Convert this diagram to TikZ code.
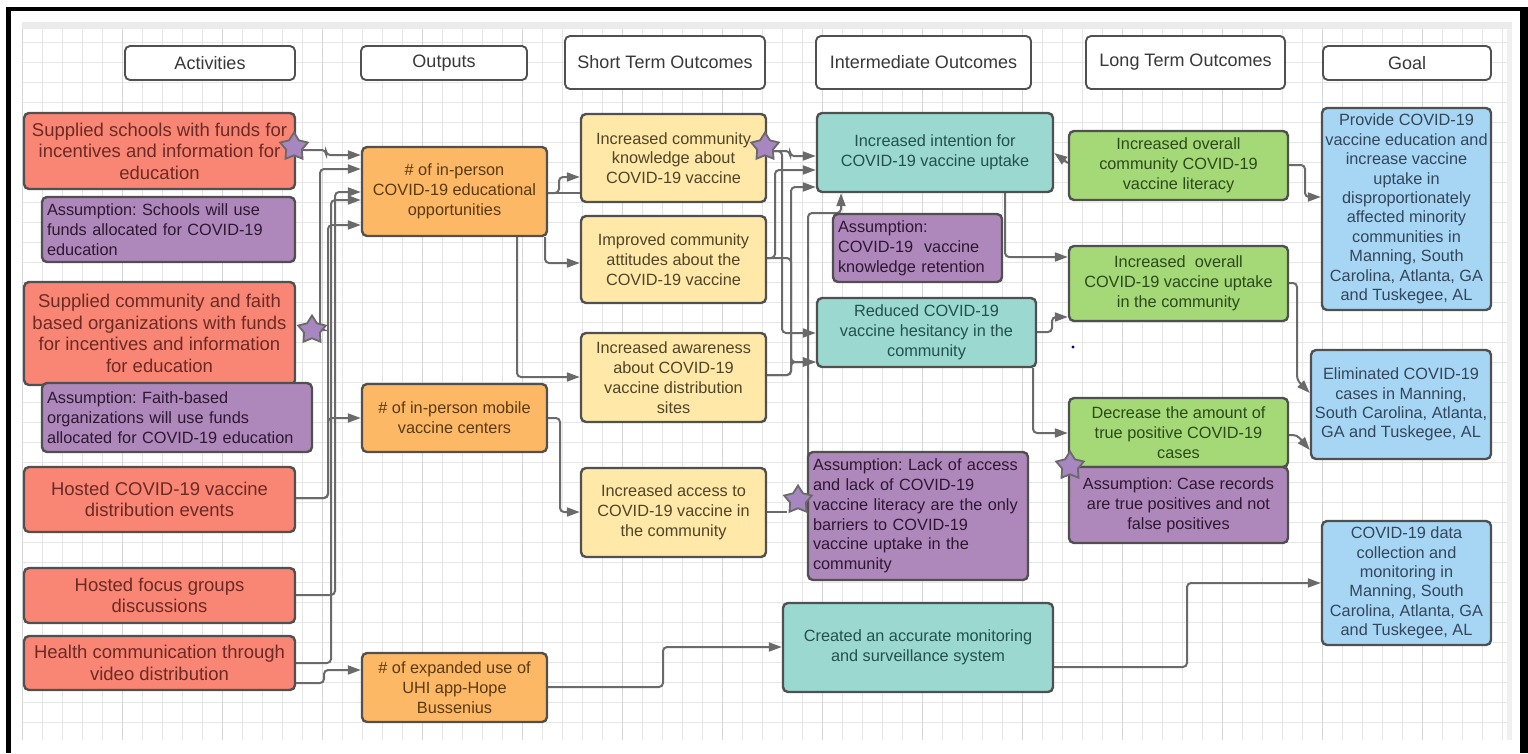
\documentclass[tikz,border=0pt]{standalone}
\usepackage{fontspec}
\setmainfont{Liberation Sans}
\usetikzlibrary{arrows.meta,shapes.geometric}
\pgfdeclarelayer{bg}
\pgfsetlayers{bg,main}
\definecolor{bordc}{HTML}{505050}
\definecolor{connc}{HTML}{6A6A6A}
\definecolor{redc}{HTML}{F98574}
\definecolor{redt}{HTML}{6B2B24}
\definecolor{orc}{HTML}{FDB866}
\definecolor{ort}{HTML}{5A3A12}
\definecolor{yelc}{HTML}{FFE8A8}
\definecolor{yelt}{HTML}{4F4527}
\definecolor{tealc}{HTML}{9AD8D0}
\definecolor{tealt}{HTML}{24504D}
\definecolor{grnc}{HTML}{A5D877}
\definecolor{grnt}{HTML}{2C4A1A}
\definecolor{purc}{HTML}{AE88BA}
\definecolor{purt}{HTML}{2E1733}
\definecolor{bluc}{HTML}{A7D6F5}
\definecolor{blut}{HTML}{33465A}
\definecolor{starc}{HTML}{A886C0}
\definecolor{gridminor}{HTML}{E6E6E6}
\definecolor{gridmajor}{HTML}{D6D6D6}
\newcommand{\fA}{\fontsize{18.5}{21.6}\selectfont}
\newcommand{\fB}{\fontsize{16.3}{19.8}\selectfont}
\newcommand{\fG}{\fontsize{16.3}{19.4}\selectfont}
\newcommand{\fH}{\fontsize{18}{21}\selectfont}
\frenchspacing
\begin{document}
\frenchspacing
\begin{tikzpicture}[x=1pt,y=-1pt,
  box/.style={draw=bordc,line width=2.4pt,rounded corners=5pt,inner sep=2pt,align=center},
  hdr/.style={box,fill=white,line width=1.9pt,text=black!78,font=\fH},
  act/.style={box,fill=redc,text=redt,font=\fA,minimum width=271pt},
  outp/.style={box,fill=orc,text=ort,font=\fB,minimum width=185pt},
  shrt/.style={box,fill=yelc,text=yelt,font=\fB,minimum width=185pt},
  inter/.style={box,fill=tealc,text=tealt,font=\fB},
  lng/.style={box,fill=grnc,text=grnt,font=\fB,minimum width=219pt},
  goal/.style={box,fill=bluc,text=blut,font=\fG},
  asm/.style={box,fill=purc,text=purt,font=\fB,align=left,inner sep=5pt},
  asmc/.style={box,fill=purc,text=purt,font=\fB},
  conn/.style={draw=connc,line width=2pt,rounded corners=4pt,-{Triangle[length=13pt,width=9pt]}},
  wire/.style={draw=connc,line width=2pt,rounded corners=4pt},
  mystar/.style={star,star points=5,star point ratio=1.75,minimum size=29pt,inner sep=0pt,fill=starc,draw=bordc!85,line width=1.8pt}
]
\useasboundingbox (0,0) rectangle (1528,753);

% headers
\node[hdr,minimum width=170pt,minimum height=34pt] (hA) at (210,63) {Activities};
\node[hdr,minimum width=166pt,minimum height=34pt] (hO) at (444,63) {Outputs};
\node[hdr,minimum width=200pt,minimum height=53pt] (hS) at (665,62.5) {Short Term Outcomes};
\node[hdr,minimum width=215pt,minimum height=53pt] (hI) at (923.5,62.5) {Intermediate Outcomes};
\node[hdr,minimum width=199pt,minimum height=53pt] (hL) at (1185.5,62.5) {Long Term Outcomes};
\node[hdr,minimum width=168pt,minimum height=34pt] (hG) at (1407,63) {Goal};

% activities
\node[act,minimum height=76pt] (A1) at (159.5,151) {Supplied schools with funds for\\incentives and information for\\education};
\node[asm,text width=243pt,minimum height=65pt] (As1) at (168.5,229.5) {Assumption: Schools will use\\funds allocated for COVID-19\\education};
\node[act,minimum height=103pt] (A2) at (159.5,333.5) {Supplied community and faith\\based organizations with funds\\for incentives and information\\for education};
\node[asm,text width=260pt,minimum height=69pt] (As2) at (177,417.5) {Assumption: Faith-based\\organizations will use funds\\allocated for COVID-19 education};
\node[act,minimum height=65pt] (A3) at (159.5,499.5) {Hosted COVID-19 vaccine\\distribution events};
\node[act,minimum height=55pt] (A4) at (159.5,595.5) {Hosted focus groups\\discussions};
\node[act,minimum height=54pt] (A5) at (159.5,663) {Health communication through\\video distribution};

% outputs
\node[outp,minimum height=89pt] (O1) at (454.5,191.5) {\# of in-person\\COVID-19 educational\\opportunities};
\node[outp,minimum height=68pt] (O2) at (454.5,418) {\# of in-person mobile\\vaccine centers};
\node[outp,minimum height=69pt] (O3) at (454.5,687.5) {\# of expanded use of\\UHI app-Hope\\Bussenius};

% short term
\node[shrt,minimum height=88pt] (S1) at (673.5,158) {Increased community\\knowledge about\\COVID-19 vaccine};
\node[shrt,minimum height=87pt] (S2) at (673.5,259.5) {Improved community\\attitudes about the\\COVID-19 vaccine};
\node[shrt,minimum height=89pt] (S3) at (673.5,377.5) {Increased awareness\\about COVID-19\\vaccine distribution\\sites};
\node[shrt,minimum height=89pt] (S4) at (673.5,512.5) {Increased access to\\COVID-19 vaccine in\\the community};

% intermediate
\node[inter,minimum width=236pt,minimum height=79pt] (I1) at (935,152.5) {Increased intention for\\COVID-19 vaccine uptake};
\node[asm,text width=159pt,minimum height=68pt] (IA1) at (917.5,248) {Assumption:\\COVID-19~ vaccine\\knowledge retention};
\node[inter,minimum width=219pt,minimum height=69pt] (I2) at (926.5,332.5) {Reduced COVID-19\\vaccine hesitancy in the\\community};
\node[asm,text width=210pt,minimum height=128pt] (IA2) at (918,516) {Assumption: Lack of access\\and lack of COVID-19\\vaccine literacy are the only\\barriers to COVID-19\\vaccine uptake in the\\community};
\node[inter,minimum width=270pt,minimum height=89pt] (I3) at (918,647.5) {Created an accurate monitoring\\and surveillance system};

% long term
\node[lng,minimum height=69pt] (L1) at (1178.5,165.5) {Increased overall\\community COVID-19\\vaccine literacy};
\node[lng,minimum height=75pt] (L2) at (1178.5,283.5) {Increased~ overall\\COVID-19 vaccine uptake\\in the community};
\node[lng,minimum height=69pt] (L3) at (1178.5,432.5) {Decrease the amount of\\true positive COVID-19\\cases};
\node[asmc,minimum width=219pt,minimum height=76pt] (LA) at (1178.5,505) {Assumption: Case records\\are true positives and not\\false positives};

% goals
\node[goal,minimum width=169pt,minimum height=202pt] (G1) at (1406.5,209) {Provide COVID-19\\vaccine education and\\increase vaccine\\uptake in\\disproportionately\\affected minority\\communities in\\Manning, South\\Carolina, Atlanta, GA\\and Tuskegee, AL};
\node[goal,minimum width=180pt,minimum height=109pt] (G2) at (1401,404.5) {Eliminated COVID-19\\cases in Manning,\\South Carolina, Atlanta,\\GA and Tuskegee, AL};
\node[goal,minimum width=169pt,minimum height=124pt] (G3) at (1406.5,583) {COVID-19 data\\collection and\\monitoring in\\Manning, South\\Carolina, Atlanta, GA\\and Tuskegee, AL};

% stars
\node[mystar] (st1) at (294,147) {};
\node[mystar] (st2) at (312,330) {};
\node[mystar] (st3) at (765,147) {};
\node[mystar] (st4) at (798,500) {};
\node[mystar] (st5) at (1070,466) {};

\begin{pgfonlayer}{bg}
  % frame and canvas
  \fill[white] (0,0) rectangle (1528,753);
  \fill[gray!16] (22,22) rectangle (1512,29);
  \foreach \i in {0,...,74} {
    \draw[gridminor,line width=0.8pt] ({22+20*\i},29) -- ({22+20*\i},740);
  }
  \foreach \j in {1,...,35} {
    \draw[gridminor,line width=0.8pt] (22,{22+20*\j}) -- (1512,{22+20*\j});
  }
  \foreach \i in {0,5,...,70} {
    \draw[gridmajor,line width=0.9pt] ({22+20*\i},29) -- ({22+20*\i},740);
  }
  \fill[gray!12] (1507,29) rectangle (1512,740);
  \fill[black] (6,7) rectangle (11,753);
  \fill[black] (6,7) rectangle (1528,11);
  \fill[black] (1520,7) rectangle (1528,753);

  % activities -> outputs
  \draw[conn] (st1 |- 0,150) -- (326,150) |- (O1.west |- 0,155);
  \draw[conn] (st2) -| (320,169) -- (O1.west |- 0,169);
  \draw[conn] (A3.east |- 0,498) -| (328,225) -- (O1.west |- 0,225);
  \draw[conn] (A3.east |- 0,498) -| (328,418) -- (O2.west |- 0,418);
  \draw[conn] (A4.east |- 0,595) -| (335,192) -- (O1.west |- 0,192);
  \draw[conn] (A5.east |- 0,663) -| (331,200) -- (O1.west |- 0,200);
  \draw[conn] (A5.east |- 0,683) -| (324,670) -- (O3.west |- 0,670);

  % outputs -> short term
  \draw[conn] (O1.east |- 0,193) -| (559,177) -- (S1.west |- 0,177);
  \draw[wire] (O1.east |- 0,193) -- (S1.west |- 0,193);
  \draw[conn] (O1.south -| 545,0) |- (S2.west |- 0,263);
  \draw[conn] (O1.south -| 517,0) |- (S3.west |- 0,377);
  \draw[conn] (O2.east) -| (560,512) -- (S4.west |- 0,512);
  \draw[conn] (O3.east |- 0,687) -| (663,647) -- (I3.west |- 0,647);

  % short term -> intermediate
  \draw[conn] (st3 |- 0,151) -- (790,151) |- (I1.west |- 0,156);
  \draw[conn] (st3 |- 0,151) -| (782,333) -- (I2.west |- 0,333);
  \draw[conn] (S2.east |- 0,258) -| (775,170) -- (I1.west |- 0,170);
  \draw[conn] (S2.east |- 0,258) -| (791,362) -- (I2.west |- 0,362);
  \draw[conn] (S3.east |- 0,375) -| (791,187) -- (I1.west |- 0,187);
  \draw[conn] (S3.east |- 0,375) -| (791,362) -- (I2.west |- 0,362);
  \draw[wire] (S4.east |- 0,512) -- (st4.west |- 0,512);
  \draw[conn] (st4 -| 808,0) |- (841,213) -- (I1.south -| 841,0);

  % intermediate -> long term
  \draw[conn] (L1.west |- 0,163) -- (I1.east |- 0,153);
  \draw[conn] (I1.south -| 1005,0) |- (L2.west |- 0,257);
  \draw[conn] (I2.east |- 0,332) -| (1052,317) -- (L2.west |- 0,317);
  \draw[conn] (I2.south -| 1033,0) |- (L3.west |- 0,433);

  % long term -> goal
  \draw[conn] (L1.east |- 0,165) -| (1305,197) -- (G1.west |- 0,197);
  \draw[conn] (L2.east |- 0,283) -| (1297,380) -- (G2.west |- 0,393);
  \draw[conn] (L3.east |- 0,435) -- (1297,435) -- (G2.west |- 0,450);
  \draw[conn] (I3.east |- 0,667) -| (1187,583) -- (G3.west |- 0,583);

  \fill[blue!55!black] (1073,347) circle (1.6pt);
\end{pgfonlayer}
\end{tikzpicture}
\end{document}
